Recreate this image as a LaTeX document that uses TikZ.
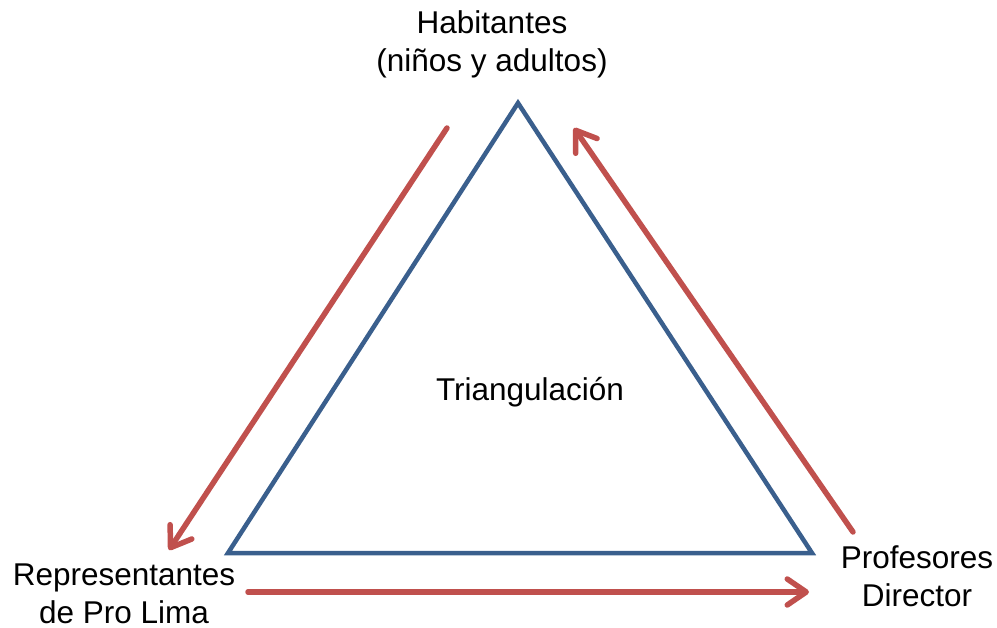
\documentclass[tikz,border=0pt]{standalone}
\usepackage{fontspec}
\setmainfont{Liberation Sans}
\usetikzlibrary{arrows.meta}
\definecolor{triblue}{HTML}{3A5F8D}
\definecolor{arrred}{HTML}{C0504D}
\begin{document}
\begin{tikzpicture}[x=1pt,y=-1pt,
  side/.style={line width=4.5pt,triblue,line join=miter},
  flow/.style={line width=5.5pt,arrred,line cap=round,-{Straight Barb[length=19pt,width=26pt,round]}},
  lbl/.style={align=center,font=\fontsize{31.5}{38}\selectfont,inner sep=0pt}]
\useasboundingbox (0,0) rectangle (997,628);
% corners of the triangle
\coordinate (top) at (518,103);
\coordinate (left) at (228,553);
\coordinate (right) at (812,553);
\draw [side] (top) -- (left) -- (right) -- cycle;
%
\node [lbl] (hab) at (492,44) {Habitantes\\(niños y adultos)};
\node [lbl] (rep) at (124,594) {Representantes\\de Pro Lima};
\node [lbl] (prof) at (917,576) {Profesores\\Director};
\node [lbl] (tri) at (530,392) {Triangulación};
%
\coordinate (a1) at (447,128);\coordinate (b1) at (169,550);
\coordinate (a2) at (853,532);\coordinate (b2) at (574,128);
\coordinate (a3) at (248,592);\coordinate (b3) at (809,592);
\draw [flow] (a1) -- (b1);
\draw [flow] (a2) -- (b2);
\draw [flow] (a3) -- (b3);
\end{tikzpicture}
\end{document}
